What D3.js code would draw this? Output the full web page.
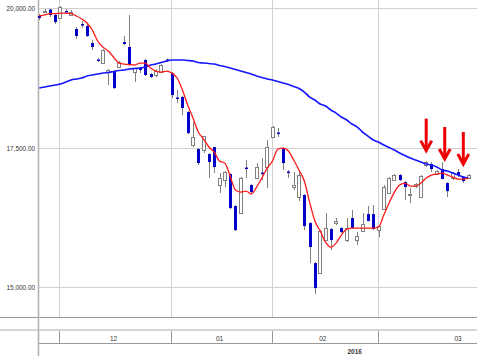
<!DOCTYPE html>
<html><head><meta charset="utf-8">
<script src="https://cdn.jsdelivr.net/npm/d3@7/dist/d3.min.js"></script>
<style>
html,body{margin:0;padding:0;background:#fff;}
svg{display:block;}
text{font-family:"Liberation Sans",Arial,sans-serif;}
</style></head><body>
<svg id="chart" width="480" height="356"></svg>
<script>
// ---- data ----
const dates = [
 "2015-11-25","2015-11-26","2015-11-27","2015-11-30",
 "2015-12-01","2015-12-02","2015-12-03","2015-12-04","2015-12-07","2015-12-08","2015-12-09","2015-12-10","2015-12-11",
 "2015-12-14","2015-12-15","2015-12-16","2015-12-17","2015-12-18","2015-12-21","2015-12-22","2015-12-24","2015-12-25",
 "2015-12-28","2015-12-29","2015-12-30",
 "2016-01-04","2016-01-05","2016-01-06","2016-01-07","2016-01-08","2016-01-12","2016-01-13","2016-01-14","2016-01-15",
 "2016-01-18","2016-01-19","2016-01-20","2016-01-21","2016-01-22","2016-01-25","2016-01-26","2016-01-27","2016-01-28","2016-01-29",
 "2016-02-01","2016-02-02","2016-02-03","2016-02-04","2016-02-05","2016-02-08","2016-02-09","2016-02-10","2016-02-12",
 "2016-02-15","2016-02-16","2016-02-17","2016-02-18","2016-02-19","2016-02-22","2016-02-23","2016-02-24","2016-02-25","2016-02-26","2016-02-29",
 "2016-03-01","2016-03-02","2016-03-03","2016-03-04","2016-03-07","2016-03-08","2016-03-09","2016-03-10","2016-03-11",
 "2016-03-14","2016-03-15","2016-03-16","2016-03-17","2016-03-18","2016-03-22","2016-03-23","2016-03-24","2016-03-25"
];
const open  = [19857,19937,19973,19875,19821,19946,19875,19624,19713,19678,19373,19078,19015,18863,18854,18944,19391,19302,18854,18926,19069,18818,18801,18854,19078,
 18836,18398,18407,18138,17548,17476,17458,17386,17512,16832,16921,17028,16456,16330,17145,16832,16957,17055,17154,
 17691,17771,17494,17073,16796,16617,16653,16151,15435,15256,15847,16044,16151,16062,15847,16241,15847,16008,16312,16312,
 16026,16402,16688,16921,17011,16885,16661,16814,16617,17190,17207,17028,17118,16867,16957,17064,16975,16957];
const high  = [19892,19982,19982,19892,20036,19982,19964,19660,19767,19731,19427,19105,19266,18908,18890,19051,19499,19875,18926,18944,19087,18836,18908,18997,19096,
 18854,18532,18425,18156,17959,17494,17709,17404,17512,17046,17082,17046,16474,16975,17279,16849,17225,17315,17637,
 17888,17852,17512,17100,17064,17082,16670,16169,15453,16026,16330,16062,16241,16080,16241,16384,15990,16330,16456,16474,
 16098,16832,16975,17028,17028,16903,16778,16867,17011,17261,17243,17100,17243,16885,17064,17118,16993,17028];
const low   = [19785,19928,19839,19713,19803,19910,19857,19445,19642,19481,19248,19033,18997,18622,18550,18926,19338,18962,18675,18836,18783,18747,18765,18836,19033,
 18389,18299,18085,17744,17512,17190,17404,16957,17046,16688,16796,16402,16008,16312,16957,16688,16939,16921,16778,
 17673,17691,17100,16957,16742,16545,16026,15435,14880,15238,15847,15668,16116,15972,15811,16044,15758,16008,16187,16026,
 15901,16402,16670,16903,16903,16563,16509,16778,16599,17154,17064,17011,16939,16617,16921,16975,16868,16939];
const close = [19821,19955,19875,19749,20018,19919,19937,19499,19687,19499,19302,19051,19248,18899,18568,19033,19355,18980,18926,18890,18801,18765,18872,18980,19051,
 18443,18371,18210,17762,17691,17225,17709,17243,17154,16957,17064,16420,16026,16957,17118,16706,17154,17028,17512,
 17870,17744,17225,17046,16832,17011,16098,15722,14988,16008,16062,15847,16187,15990,16062,16062,15919,16133,16187,16044,
 16098,16796,16957,17011,16921,16796,16679,16849,16993,17243,17118,17082,16939,16724,17046,17011,16903,17011];
// short moving average (red) and long moving average (blue)
const maShort = [19857,19875,19901,19901,19910,19910,19901,19857,19803,19731,19606,19409,19302,19230,19123,19015,18997,18988,18980,19015,19015,18926,18872,18854,18872,
 18836,18747,18532,18264,18031,17780,17655,17512,17422,17261,17225,16993,16742,16706,16724,16670,16796,16957,17136,
 17261,17476,17494,17440,17279,17100,16903,16527,16187,16008,15811,15722,15793,15937,16044,16062,16062,16062,16062,16062,
 16080,16295,16510,16706,16832,16867,16814,16814,16867,16957,17011,17028,17046,17011,16975,16939,16939,16957];
const maLong = [18568,18586,18604,18622,18640,18675,18711,18729,18747,18783,18801,18818,18836,18845,18863,18881,18890,18908,18917,18926,18944,18980,18997,19024,19051,
 19069,19069,19069,19060,19051,19024,19015,19006,18997,18971,18953,18926,18899,18872,18845,18818,18783,18756,18729,
 18711,18684,18657,18630,18595,18559,18496,18407,18353,18282,18246,18174,18120,18049,17995,17924,17870,17780,17709,17637,
 17601,17548,17503,17458,17404,17360,17315,17279,17243,17207,17190,17154,17100,17082,17046,17011,16975,16957];
const yTicks = [15000, 17500, 20000];
const monthLabels = ["12", "01", "02", "03"];
const yearLabel = "2016";
// annotation arrows: position (candle index) and tip value
const arrowPos = [73, 76.5, 80];
const arrowTip = [17430, 17280, 17190];

// ---- layout ----
const svg = d3.select("#chart");
const plotL = 38, plotR = 477, plotT = 0, plotB = 317;
const axisLastIndex = 94; // hidden extent of the date axis (for label centring)
const x = d3.scaleLinear().domain([0, dates.length - 1]).range([39.3, 39.3 + 5.3 * (dates.length - 1)]);
const y = d3.scaleLinear().domain([15000, 20000]).range([287.4, 8]);
const grid = "#d0d0d0", dark = "#999";
const squeeze = 0.8; // narrow font look
function narrow(sel) {
  sel.each(function () {
    const w = this.getComputedTextLength();
    d3.select(this).attr("textLength", w * squeeze).attr("lengthAdjust", "spacingAndGlyphs");
  });
}

// horizontal grid + y labels via axis
const yAxis = d3.axisLeft(y).tickValues(yTicks).tickFormat(d3.format(",.2f"))
  .tickSizeInner(-(plotR - plotL)).tickSizeOuter(0).tickPadding(3);
const ya = svg.append("g").attr("transform", `translate(${plotL},0)`).call(yAxis);
ya.select(".domain").remove();
ya.selectAll(".tick line").attr("stroke", grid).attr("shape-rendering", "crispEdges");
ya.selectAll(".tick text").attr("fill", "#333").style("font-size", "8px")
  .style("font-family", '"Liberation Sans",Arial,sans-serif').call(narrow);

// month boundaries from dates
const monthStarts = [];
dates.forEach((d, i) => { if (i > 0 && d.slice(0, 7) !== dates[i - 1].slice(0, 7)) monthStarts.push(i); });
const bx = i => Math.round(x(i)) - 0.5;

svg.append("g").selectAll("line").data(monthStarts).join("line")
  .attr("x1", bx).attr("x2", bx).attr("y1", plotT).attr("y2", plotB)
  .attr("stroke", grid).attr("stroke-width", 1).attr("shape-rendering", "crispEdges");

// bottom frame
svg.append("line").attr("x1", 0).attr("x2", plotR).attr("y1", 317.5).attr("y2", 317.5).attr("stroke", dark);
svg.append("line").attr("x1", 0).attr("x2", plotR).attr("y1", 330).attr("y2", 330).attr("stroke", "#d6d6d6").attr("stroke-width", 2);
svg.append("line").attr("x1", plotL).attr("x2", plotR).attr("y1", 343.5).attr("y2", 343.5).attr("stroke", dark);
svg.append("g").selectAll("line").data(monthStarts).join("line")
  .attr("x1", bx).attr("x2", bx).attr("y1", 331).attr("y2", 343).attr("stroke", dark);
svg.append("line").attr("x1", plotL + 0.5).attr("x2", plotL + 0.5).attr("y1", 0).attr("y2", 356)
  .attr("stroke", "#b4b4b4").attr("stroke-width", 1.6);

// month labels centred on each month's candle span
const spans = monthStarts.map((s, k) => [s, k + 1 < monthStarts.length ? monthStarts[k + 1] - 1 : axisLastIndex]);
svg.append("g").selectAll("text").data(spans).join("text")
  .attr("x", d => (x(d[0]) + x(d[1])) / 2).attr("y", 340.5)
  .attr("text-anchor", "middle").attr("fill", "#333").style("font-size", "8px")
  .text((d, k) => monthLabels[k]).call(narrow);
const yearStart = dates.findIndex(d => d.startsWith(yearLabel));
svg.append("text").attr("x", (x(yearStart) + x(axisLastIndex)) / 2).attr("y", 353.5)
  .attr("text-anchor", "middle").attr("fill", "#333").style("font-size", "8px").style("font-weight", "bold")
  .text(yearLabel).call(narrow);

// candles
const idx = d3.range(dates.length);
const px = i => Math.round(x(i));
const cg = svg.append("g");
cg.selectAll("line").data(idx).join("line")
  .attr("x1", i => px(i) + 0.5).attr("x2", i => px(i) + 0.5)
  .attr("y1", i => y(high[i])).attr("y2", i => y(low[i]))
  .attr("stroke", "#808080").attr("stroke-width", 1);
cg.selectAll("rect").data(idx).join("rect")
  .each(function (i) {
    const up = close[i] >= open[i];
    const top = y(Math.max(open[i], close[i])), bot = y(Math.min(open[i], close[i]));
    const r = d3.select(this);
    if (up) {
      r.attr("x", px(i) - 1.5).attr("width", 3)
       .attr("y", Math.round(top) + 0.5).attr("height", Math.max(1, Math.round(bot - top)))
       .attr("fill", "#fff").attr("stroke", "#808080").attr("stroke-width", 1);
    } else {
      r.attr("x", px(i) - 1).attr("width", 3)
       .attr("y", top).attr("height", Math.max(1.5, bot - top))
       .attr("fill", "#0000c8");
    }
  });

// moving averages
const line = d3.line().x((d, i) => x(i)).y(d => y(d)).curve(d3.curveMonotoneX);
svg.append("path").attr("d", line(maLong)).attr("fill", "none").attr("stroke", "#1414ff").attr("stroke-width", 1.6);
svg.append("path").attr("d", line(maShort)).attr("fill", "none").attr("stroke", "#ff1a1a").attr("stroke-width", 1.3);

// arrows
const ag = svg.append("g").attr("stroke", "#ee0000").attr("stroke-width", 3).attr("fill", "none");
arrowPos.forEach((p, k) => {
  const ax = x(p), ty = y(arrowTip[k]);
  ag.append("line").attr("x1", ax).attr("x2", ax).attr("y1", ty - 33).attr("y2", ty - 2);
  ag.append("polyline").attr("points", `${ax - 5.5},${ty - 11} ${ax},${ty - 1} ${ax + 5.5},${ty - 11}`)
    .attr("stroke-linejoin", "miter");
});
</script>
</body></html>
